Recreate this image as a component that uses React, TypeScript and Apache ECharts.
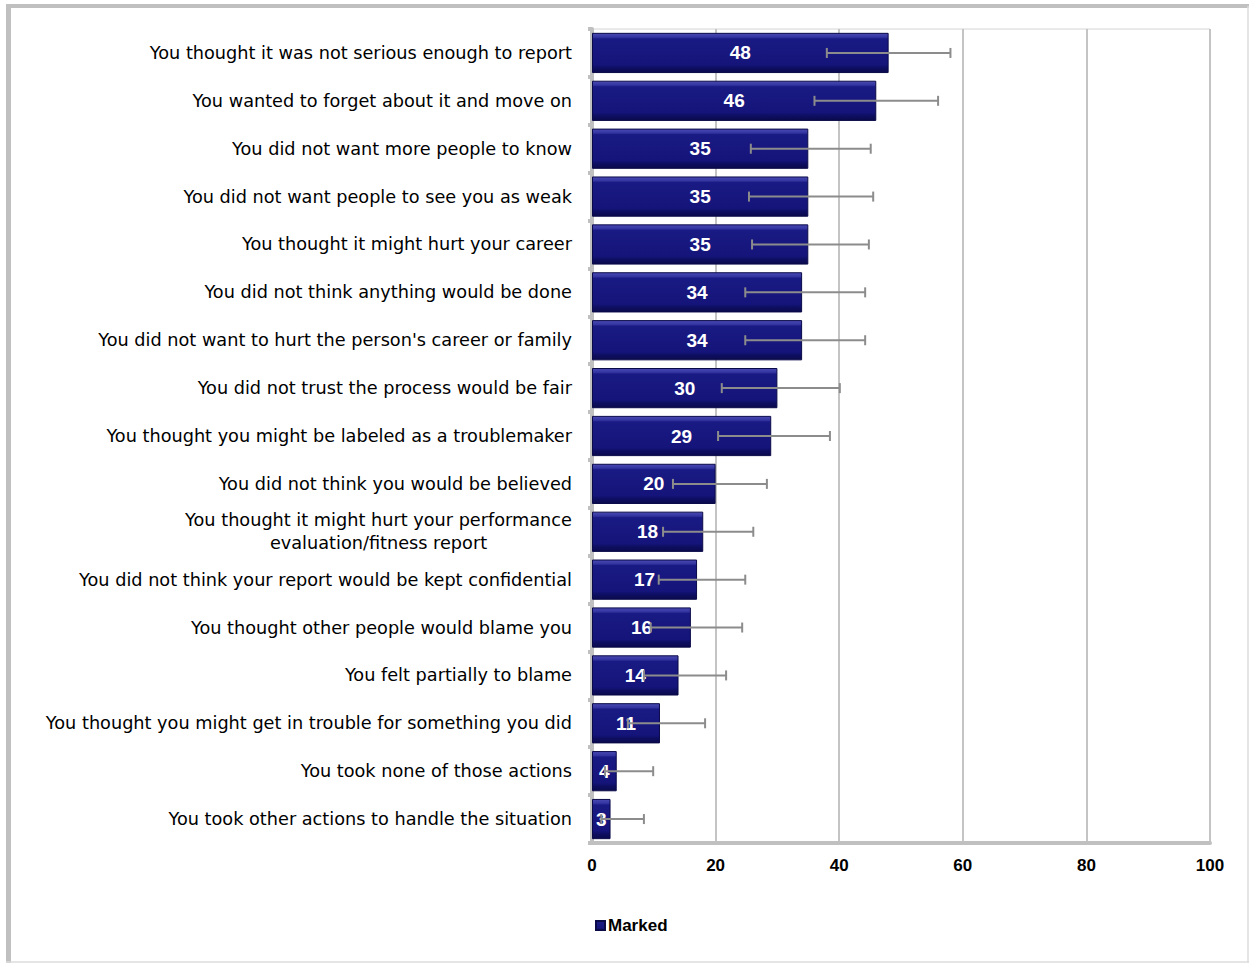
import React, { useEffect, useRef } from "react";
import * as echarts from "echarts";

const categories = [
  "You thought it was not serious enough to report",
  "You wanted to forget about it and move on",
  "You did not want more people to know",
  "You did not want people to see you as weak",
  "You thought it might hurt your career",
  "You did not think anything would be done",
  "You did not want to hurt the person's career or family",
  "You did not trust the process would be fair",
  "You thought you might be labeled as a troublemaker",
  "You did not think you would be believed",
  "You thought it might hurt your performance\nevaluation/fitness report",
  "You did not think your report would be kept confidential",
  "You thought other people would blame you",
  "You felt partially to blame",
  "You thought you might get in trouble for something you did",
  "You took none of those actions",
  "You took other actions to handle the situation",
];

const marked = [48, 46, 35, 35, 35, 34, 34, 30, 29, 20, 18, 17, 16, 14, 11, 4, 3];
const errLow = [38, 36, 25.7, 25.4, 25.9, 24.8, 24.8, 21, 20.4, 13.1, 11.5, 10.8, 9.5, 8.4, 5.8, 2.1, 1.5];
const errHigh = [58, 56, 45.1, 45.5, 44.8, 44.2, 44.2, 40.1, 38.5, 28.3, 26.1, 24.8, 24.3, 21.7, 18.3, 9.9, 8.4];
const xTicks = [0, 20, 40, 60, 80, 100];

const FONT = "'Liberation Sans', Arial, sans-serif";
const CAT_FONT = "'DejaVu Sans', sans-serif";
const CAT_SIZE = 17.7;

function measure(text: string): number {
  const c = document.createElement("canvas").getContext("2d");
  if (!c) return 390;
  c.font = `${CAT_SIZE}px ${CAT_FONT}`;
  return Math.ceil(c.measureText(text).width);
}

export default function App() {
  const ref = useRef<HTMLDivElement>(null);
  useEffect(() => {
    document.body.style.margin = "0";
    const chart = echarts.init(ref.current!, null, { renderer: "svg" });
    const errData = categories.map((_, i) => [i, errLow[i], errHigh[i]]);
    const wrapped = categories.find((c) => c.indexOf("\n") >= 0) || "";
    const wrapW = Math.max(...wrapped.split("\n").map(measure));
    chart.setOption({
      animation: false,
      backgroundColor: "#ffffff",
      textStyle: { fontFamily: FONT },
      grid: { left: 592, right: 39, top: 29, bottom: 120, show: true, borderColor: "#d4d4d4", borderWidth: 1 },
      legend: {
        data: ["Marked"],
        left: 590,
        top: 912,
        icon: "rect",
        itemWidth: 9,
        itemHeight: 9,
        itemGap: 4,
        textStyle: { fontSize: 17, color: "#000", fontFamily: FONT, fontWeight: "bold", padding: [0, 0, 0, -2] },
      },
      xAxis: {
        type: "value",
        min: xTicks[0],
        max: xTicks[xTicks.length - 1],
        interval: 20,
        axisLine: { show: true, lineStyle: { color: "#c0c0c0", width: 4 } },
        axisTick: { show: false },
        splitLine: { show: true, lineStyle: { color: "#c4c4c4", width: 2 } },
        axisLabel: { color: "#000", fontSize: 17, fontWeight: "bold", fontFamily: FONT, margin: 14 },
      },
      yAxis: {
        type: "category",
        data: categories,
        inverse: true,
        axisLine: { show: true, lineStyle: { color: "#c0c0c0", width: 4 } },
        axisTick: { show: true, length: 4, lineStyle: { color: "#c0c0c0", width: 4 } },
        axisLabel: {
          color: "#000",
          fontSize: CAT_SIZE,
          fontFamily: CAT_FONT,
          margin: 20,
          formatter: (v: string) => {
            if (v.indexOf("\n") >= 0) {
              return v.split("\n").map((s) => "{c|" + s + "}").join("\n");
            }
            return v;
          },
          rich: {
            c: { width: wrapW, align: "center", fontSize: CAT_SIZE, fontFamily: CAT_FONT, color: "#000", lineHeight: 23 },
          },
        },
      },
      series: [
        {
          name: "Marked",
          type: "bar",
          data: marked,
          barCategoryGap: "16%",
          itemStyle: {
            color: new echarts.graphic.LinearGradient(0, 0, 0, 1, [
              { offset: 0, color: "#4a4ab4" },
              { offset: 0.1, color: "#3434a0" },
              { offset: 0.14, color: "#1a1a84" },
              { offset: 0.8, color: "#14147a" },
              { offset: 0.88, color: "#0e0e62" },
              { offset: 1, color: "#0a0a4c" },
            ]),
            borderColor: "#0a0a48",
            borderWidth: 1,
          },
          label: {
            show: true,
            position: "inside",
            color: "#fff",
            fontSize: 19,
            fontWeight: "bold",
            fontFamily: FONT,
          },
          z: 2,
        },
        {
          name: "err",
          type: "custom",
          data: errData,
          z: 5,
          renderItem: (params: any, api: any) => {
            const y = api.value(0);
            const lo = api.coord([api.value(1), y]);
            const hi = api.coord([api.value(2), y]);
            const cap = 5;
            const style = { stroke: "#8c8c8c", lineWidth: 2 };
            return {
              type: "group",
              children: [
                { type: "line", shape: { x1: lo[0], y1: lo[1], x2: hi[0], y2: hi[1] }, style },
                { type: "line", shape: { x1: lo[0], y1: lo[1] - cap, x2: lo[0], y2: lo[1] + cap }, style },
                { type: "line", shape: { x1: hi[0], y1: hi[1] - cap, x2: hi[0], y2: hi[1] + cap }, style },
              ],
            };
          },
        },
      ],
      graphic: [
        { type: "line", shape: { x1: 8.5, y1: 4, x2: 8.5, y2: 963 }, style: { stroke: "#c0c0c0", lineWidth: 5 } },
        { type: "line", shape: { x1: 6, y1: 6, x2: 1249, y2: 6 }, style: { stroke: "#c0c0c0", lineWidth: 4 } },
        { type: "line", shape: { x1: 1248, y1: 6, x2: 1248, y2: 963 }, style: { stroke: "#dcdcdc", lineWidth: 1.5 } },
        { type: "line", shape: { x1: 6, y1: 962, x2: 1249, y2: 962 }, style: { stroke: "#dcdcdc", lineWidth: 1.5 } },
      ],
    });
    return () => chart.dispose();
  }, []);
  return <div ref={ref} style={{ width: 1249, height: 963 }} />;
}
